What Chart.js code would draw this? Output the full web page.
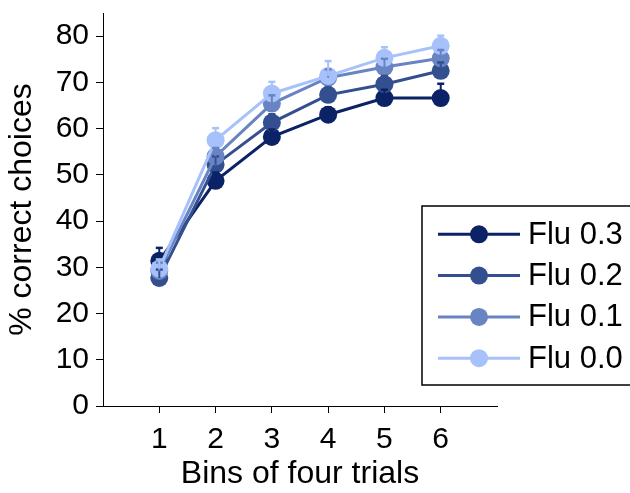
<!DOCTYPE html>
<html>
<head>
<meta charset="utf-8">
<script src="https://cdn.jsdelivr.net/npm/chart.js@4.4.1/dist/chart.umd.min.js"></script>
<style>
  html, body { margin: 0; padding: 0; background: #fff; }
  #wrap { width: 630px; height: 493px; position: relative; }
</style>
</head>
<body>
<div id="wrap"><canvas id="chart"></canvas></div>
<script>
// bins of four trials
const bins = [1, 2, 3, 4, 5, 6];
const yTicks = [0, 10, 20, 30, 40, 50, 60, 70, 80];

// mean % correct per flu level
const flu03 = [31.4, 48.7, 58.2, 63.0, 66.6, 66.6];
const flu02 = [27.7, 52.2, 61.3, 67.3, 69.6, 72.5];
const flu01 = [29.2, 54.0, 65.4, 71.0, 73.3, 75.2];
const flu00 = [29.7, 57.5, 67.6, 71.4, 75.3, 77.9];

// standard errors (upper bars only)
const err03 = [2.8, 1.8, 1.6, 1.6, 1.8, 3.1];
const err02 = [1.8, 1.8, 1.8, 1.6, 1.8, 1.8];
const err01 = [1.8, 1.8, 1.8, 1.8, 1.8, 1.8];
const err00 = [2.0, 2.6, 2.5, 3.2, 2.3, 2.2];

const labels = ["Flu 0.3", "Flu 0.2", "Flu 0.1", "Flu 0.0"];
const colors = ["#0b2266", "#344f8f", "#6984c2", "#a7c1fb"];
const series = [flu03, flu02, flu01, flu00];
const errors = [err03, err02, err01, err00];

const FONT = "'Liberation Sans', Arial, Helvetica, sans-serif";
const TICK_FS = 30;
const TITLE_FS = 32;
const LEGEND_FS = 31;

const datasets = series.map((vals, i) => ({
  label: labels[i],
  data: bins.map((b, j) => ({ x: b, y: vals[j] })),
  errors: errors[i],
  borderColor: colors[i],
  backgroundColor: colors[i],
  pointBackgroundColor: colors[i],
  pointBorderWidth: 0,
  pointRadius: 9,
  borderWidth: 3,
  tension: 0,
  order: series.length - 1 - i
}));

// upward error bars, painted over all the lines and markers
const errorBars = {
  id: "errorBars",
  afterDatasetsDraw(chart) {
    const yScale = chart.scales.y;
    const ctx = chart.ctx;
    ctx.save();
    chart.data.datasets.forEach((ds, i) => {
      const meta = chart.getDatasetMeta(i);
      ctx.strokeStyle = ds.borderColor;
      meta.data.forEach((pt, j) => {
        const yTop = yScale.getPixelForValue(ds.data[j].y + ds.errors[j]);
        ctx.lineWidth = 2;
        ctx.beginPath();
        ctx.moveTo(pt.x, pt.y);
        ctx.lineTo(pt.x, yTop);
        ctx.stroke();
        ctx.lineWidth = 2.5;
        ctx.beginPath();
        ctx.moveTo(pt.x - 3.5, yTop);
        ctx.lineTo(pt.x + 3.5, yTop);
        ctx.stroke();
      });
    });
    ctx.restore();
  }
};

// boxed legend sitting over the lower right
const boxLegend = {
  id: "boxLegend",
  afterDraw(chart) {
    const ctx = chart.ctx;
    ctx.save();
    ctx.strokeStyle = "#000";
    ctx.lineWidth = 1.5;
    ctx.fillStyle = "#fff";
    ctx.fillRect(422, 206, 240, 179);
    ctx.strokeRect(422, 206, 240, 179);
    chart.data.datasets.forEach((ds, i) => {
      const y = 234.3 + i * 41.3;
      ctx.strokeStyle = ds.borderColor;
      ctx.lineWidth = 3;
      ctx.beginPath();
      ctx.moveTo(438, y);
      ctx.lineTo(520, y);
      ctx.stroke();
      ctx.fillStyle = ds.borderColor;
      ctx.beginPath();
      ctx.arc(479, y, 9, 0, Math.PI * 2);
      ctx.fill();
      ctx.fillStyle = "#000";
      ctx.font = LEGEND_FS + "px " + FONT;
      ctx.textBaseline = "middle";
      ctx.textAlign = "left";
      ctx.fillText(ds.label, 528, y + 1);
    });
    ctx.restore();
  }
};

const axisGrid = { display: true, drawOnChartArea: false, drawTicks: true, tickLength: 7, color: "#000", lineWidth: 1 };
const axisBorder = { display: true, color: "#000", width: 1 };

new Chart(document.getElementById("chart"), {
  type: "line",
  data: { datasets },
  options: {
    responsive: true,
    maintainAspectRatio: false,
    animation: false,
    layout: { padding: { top: 13, right: 133, left: 0, bottom: 0 } },
    plugins: {
      legend: { display: false },
      tooltip: { enabled: false }
    },
    scales: {
      x: {
        type: "linear",
        min: 0,
        max: 7,
        afterBuildTicks(scale) { scale.ticks = bins.map(v => ({ value: v })); },
        afterFit(scale) {
          scale.height = 87;
          scale.paddingLeft = 0;
          scale.paddingRight = 0;
        },
        grid: axisGrid,
        border: axisBorder,
        ticks: { color: "#000", font: { family: FONT, size: TICK_FS }, padding: 9, maxRotation: 0 },
        title: { display: true, text: "Bins of four trials", color: "#000", font: { family: FONT, size: TITLE_FS }, padding: { top: 0, bottom: 0 } }
      },
      y: {
        min: 0,
        max: 85,
        afterBuildTicks(scale) { scale.ticks = yTicks.map(v => ({ value: v })); },
        afterFit(scale) {
          scale.width = 103;
          scale.paddingTop = 0;
          scale.paddingBottom = 0;
        },
        grid: axisGrid,
        border: axisBorder,
        ticks: { color: "#000", font: { family: FONT, size: TICK_FS }, padding: 7 },
        title: { display: true, text: "% correct choices", color: "#000", font: { family: FONT, size: TITLE_FS }, padding: { top: 3, bottom: 0 } }
      }
    }
  },
  plugins: [errorBars, boxLegend]
});
</script>
</body>
</html>
